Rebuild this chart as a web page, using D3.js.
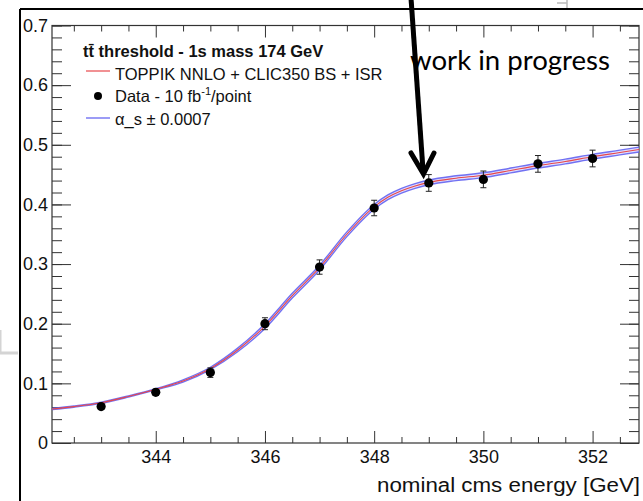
<!DOCTYPE html>
<html>
<head>
<meta charset="UTF-8">
<title>ttbar threshold scan</title>
<script src="https://d3js.org/d3.v7.min.js"></script>
<style>
html, body { margin: 0; padding: 0; background: white; }
svg { font-family: 'Liberation Sans', Arial, sans-serif; }
</style>
</head>
<body>
<script>
// measured points (10 fb-1 each)
var energies = [343, 344, 345, 346, 347, 348, 349, 350, 351, 352];
var xsec     = [0.061, 0.085, 0.118, 0.200, 0.295, 0.394, 0.436, 0.442, 0.468, 0.477];
var xsecErr  = [0.004, 0.005, 0.008, 0.010, 0.012, 0.013, 0.014, 0.014, 0.014, 0.014];

// TOPPIK NNLO curve + alpha_s variations
var curveE  = [342.1, 342.5, 343, 343.5, 344, 344.5, 345, 345.5, 346, 346.5, 347, 347.5, 348, 348.25, 348.5, 348.75, 349, 349.5, 350, 350.5, 351, 351.5, 352, 352.5, 352.85];
var central = [0.057, 0.061, 0.0675, 0.078, 0.090, 0.104, 0.125, 0.156, 0.196, 0.247, 0.294, 0.350, 0.396, 0.412, 0.423, 0.431, 0.437, 0.444, 0.449, 0.457, 0.465, 0.472, 0.480, 0.487, 0.492];
var asUp    = [0.058, 0.062, 0.0685, 0.079, 0.091, 0.106, 0.127, 0.159, 0.200, 0.251, 0.298, 0.354, 0.400, 0.416, 0.427, 0.435, 0.441, 0.448, 0.453, 0.461, 0.469, 0.476, 0.484, 0.491, 0.496];
var asDown  = [0.056, 0.060, 0.0665, 0.077, 0.089, 0.102, 0.123, 0.153, 0.192, 0.243, 0.290, 0.346, 0.392, 0.408, 0.419, 0.427, 0.433, 0.440, 0.445, 0.453, 0.461, 0.468, 0.476, 0.483, 0.488];

var xMajor = [344, 346, 348, 350, 352];
var yMajor = [0, 0.1, 0.2, 0.3, 0.4, 0.5, 0.6, 0.7];

var W = 643, H = 501;
var L = 52, R = 639, T = 25.5, B = 443;

var svg = d3.select("body").append("svg")
    .attr("width", W)
    .attr("height", H);

var x = d3.scaleLinear().domain([342.1, 352.85]).range([L, R]);
var y = d3.scaleLinear().domain([0, 0.7]).range([B, T]);

// page decorations from the slide
svg.append("line").attr("x1", 20).attr("y1", 9).attr("x2", W).attr("y2", 9)
    .attr("stroke", "black").attr("stroke-width", 2);
svg.append("line").attr("x1", 20).attr("y1", 9).attr("x2", 20).attr("y2", H)
    .attr("stroke", "black").attr("stroke-width", 2);
svg.append("path").attr("d", "M0,330 V353 H18")
    .attr("fill", "none").attr("stroke", "#d4d4d4").attr("stroke-width", 3);
svg.append("path").attr("d", "M557,3 H567 V0 M567,3 V8")
    .attr("fill", "none").attr("stroke", "#bbb").attr("stroke-width", 1.5);

// frame background
svg.append("rect").attr("x", L).attr("y", T).attr("width", R - L).attr("height", B - T)
    .attr("fill", "white");

// minor ticks
var xMinor = d3.range(342.5, 352.9, 0.5).filter(function(v) { return xMajor.indexOf(v) < 0; });
var yMinor = d3.range(0, 0.701, 0.02);

function tickStyle(g) {
    g.select(".domain").remove();
    g.selectAll(".tick line").attr("stroke", "#333").attr("stroke-width", 1);
    g.selectAll(".tick text").attr("fill", "#111").style("font-family", "'Liberation Sans', Arial, sans-serif");
}

svg.append("g").attr("transform", "translate(0," + B + ")")
    .call(d3.axisBottom(x).tickValues(xMinor).tickSize(-6).tickFormat(""))
    .call(tickStyle);
svg.append("g").attr("transform", "translate(0," + B + ")")
    .call(d3.axisBottom(x).tickValues(xMajor).tickSize(-12).tickPadding(7.5).tickFormat(d3.format("d")))
    .call(tickStyle)
    .selectAll("text").attr("font-size", 18);
svg.append("g").attr("transform", "translate(0," + T + ")")
    .call(d3.axisTop(x).tickValues(xMinor).tickSize(-6).tickFormat(""))
    .call(tickStyle);
svg.append("g").attr("transform", "translate(0," + T + ")")
    .call(d3.axisTop(x).tickValues(xMajor).tickSize(-12).tickFormat(""))
    .call(tickStyle);

svg.append("g").attr("transform", "translate(" + L + ",0)")
    .call(d3.axisLeft(y).tickValues(yMinor).tickSize(-10).tickFormat(""))
    .call(tickStyle);
svg.append("g").attr("transform", "translate(" + L + ",0)")
    .call(d3.axisLeft(y).tickValues(yMajor).tickSize(-19).tickPadding(4)
        .tickFormat(function(d) { return d === 0 ? "0" : d3.format(".1f")(d); }))
    .call(tickStyle)
    .selectAll("text").attr("font-size", 18);
svg.append("g").attr("transform", "translate(" + R + ",0)")
    .call(d3.axisRight(y).tickValues(yMinor).tickSize(-10).tickFormat(""))
    .call(tickStyle);
svg.append("g").attr("transform", "translate(" + R + ",0)")
    .call(d3.axisRight(y).tickValues(yMajor).tickSize(-19).tickFormat(""))
    .call(tickStyle);

svg.append("rect").attr("x", L).attr("y", T).attr("width", R - L).attr("height", B - T)
    .attr("fill", "none").attr("stroke", "#333").attr("stroke-width", 1.2);

// curves
var idx = d3.range(curveE.length);
var band = d3.area().curve(d3.curveMonotoneX)
    .x(function(i) { return x(curveE[i]); })
    .y0(function(i) { return y(asDown[i]); })
    .y1(function(i) { return y(asUp[i]); });
function lineOf(arr) {
    return d3.line().curve(d3.curveMonotoneX)
        .x(function(i) { return x(curveE[i]); })
        .y(function(i) { return y(arr[i]); });
}
var plot = svg.append("g");
plot.append("path").attr("d", band(idx)).attr("fill", "#c9c6ff").attr("opacity", 0.6);
plot.append("path").attr("d", lineOf(asUp)(idx)).attr("fill", "none")
    .attr("stroke", "#5a5af0").attr("stroke-width", 1.4).attr("opacity", 0.85);
plot.append("path").attr("d", lineOf(asDown)(idx)).attr("fill", "none")
    .attr("stroke", "#5a5af0").attr("stroke-width", 1.4).attr("opacity", 0.85);
plot.append("path").attr("d", lineOf(central)(idx)).attr("fill", "none")
    .attr("stroke", "#e8474a").attr("stroke-width", 1.1);

// data points
var pts = plot.selectAll(".pt").data(energies).enter().append("g");
pts.append("line")
    .attr("x1", function(d) { return x(d); }).attr("x2", function(d) { return x(d); })
    .attr("y1", function(d, i) { return y(xsec[i] - xsecErr[i]); })
    .attr("y2", function(d, i) { return y(xsec[i] + xsecErr[i]); })
    .attr("stroke", "#222").attr("stroke-width", 1);
[-1, 1].forEach(function(s) {
    pts.append("line")
        .attr("x1", function(d) { return x(d) - 3; }).attr("x2", function(d) { return x(d) + 3; })
        .attr("y1", function(d, i) { return y(xsec[i] + s * xsecErr[i]); })
        .attr("y2", function(d, i) { return y(xsec[i] + s * xsecErr[i]); })
        .attr("stroke", "#222").attr("stroke-width", 1);
});
pts.append("circle")
    .attr("cx", function(d) { return x(d); })
    .attr("cy", function(d, i) { return y(xsec[i]); })
    .attr("r", 4.6)
    .attr("fill", "black");

// legend
var leg = svg.append("g").attr("font-size", 16.5).attr("fill", "#111");
leg.append("text").attr("x", 83).attr("y", 57).attr("font-weight", "bold")
    .text("tt\u0304 threshold - 1s mass 174 GeV");
leg.append("line").attr("x1", 86).attr("x2", 110).attr("y1", 71).attr("y2", 71)
    .attr("stroke", "#e8474a").attr("stroke-width", 1.2);
leg.append("text").attr("x", 115).attr("y", 79.5).text("TOPPIK NNLO + CLIC350 BS + ISR");
leg.append("circle").attr("cx", 98).attr("cy", 96).attr("r", 4).attr("fill", "black");
var dt = leg.append("text").attr("x", 115).attr("y", 102);
dt.append("tspan").text("Data - 10 fb");
dt.append("tspan").attr("font-size", 11).attr("dy", -7).text("-1");
dt.append("tspan").attr("dy", 7).text("/point");
leg.append("line").attr("x1", 86).attr("x2", 110).attr("y1", 118).attr("y2", 118)
    .attr("stroke", "#5a5af0").attr("stroke-width", 1.2);
leg.append("text").attr("x", 115).attr("y", 124.5).text("\u03b1_s \u00b1 0.0007");

// axis title
svg.append("text").attr("x", 377).attr("y", 492).attr("font-size", 20)
    .attr("textLength", 263).attr("lengthAdjust", "spacingAndGlyphs")
    .attr("fill", "#111")
    .text("nominal cms energy [GeV]");

// annotation
svg.append("text").attr("x", 410).attr("y", 70)
    .attr("font-family", "Lato, 'Open Sans', sans-serif").attr("font-size", 27)
    .attr("textLength", 200).attr("lengthAdjust", "spacingAndGlyphs")
    .attr("fill", "black")
    .text("work in progress");
svg.append("path").attr("d", "M411,-2 L423,170")
    .attr("stroke", "black").attr("stroke-width", 5).attr("fill", "none");
svg.append("path").attr("d", "M411,153 L423.5,174 L434,153")
    .attr("stroke", "black").attr("stroke-width", 5).attr("fill", "none")
    .attr("stroke-linecap", "round").attr("stroke-linejoin", "miter");
</script>
</body>
</html>
